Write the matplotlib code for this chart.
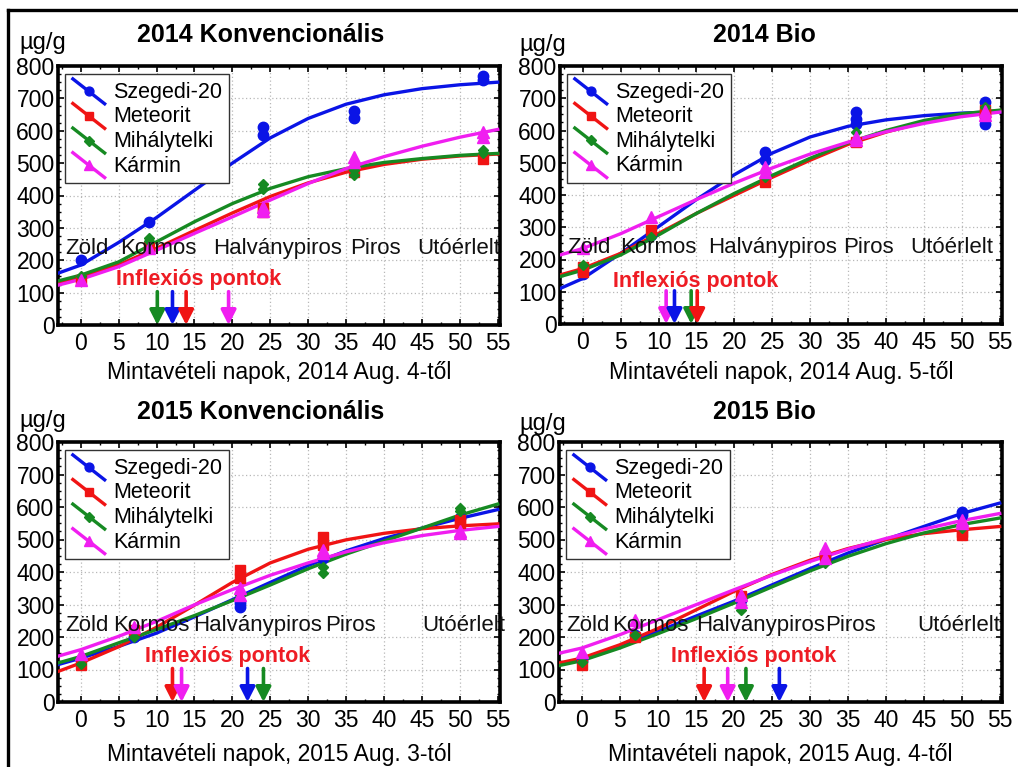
import matplotlib
matplotlib.use("Agg")
import matplotlib.pyplot as plt
from matplotlib.lines import Line2D
from matplotlib.legend_handler import HandlerBase
from matplotlib.ticker import MultipleLocator

plt.rcParams['font.family'] = ['Liberation Sans', 'DejaVu Sans']

# ---------------- data ----------------
SERIES = ["Szegedi-20", "Meteorit", "Mihálytelki", "Kármin"]
STAGES = ["Zöld", "Kormos", "Halványpiros", "Piros", "Utóérlelt"]
TITLES = ["2014 Konvencionális", "2014 Bio", "2015 Konvencionális", "2015 Bio"]
XLABELS = ["Mintavételi napok, 2014 Aug. 4-től", "Mintavételi napok, 2014 Aug. 5-től",
           "Mintavételi napok, 2015 Aug. 3-tól", "Mintavételi napok, 2015 Aug. 4-től"]
UNIT = "µg/g"
INFLEX_LABEL = "Inflexiós pontok"

DAYS_2014 = [0, 9, 24, 36, 53]
DAYS_2015 = [0, 7, 21, 32, 50]
CURVE_DAYS = [-3, 0, 5, 10, 15, 20, 25, 30, 35, 40, 45, 50, 55]

# measured replicates per sampling day
K14_POINTS = {
    "Szegedi-20":  [[202], [318], [612, 588], [662, 640], [770, 757]],
    "Meteorit":    [[140], [240], [360, 350], [472], [512]],
    "Mihálytelki": [[152], [268, 258], [435, 420], [480, 462], [540, 530]],
    "Kármin":      [[138], [238], [365, 352], [520, 505], [597, 582]],
}
B14_POINTS = {
    "Szegedi-20":  [[155], [275], [533, 508], [657, 637, 621], [688, 621]],
    "Meteorit":    [[162, 178], [291], [440], [564], [665, 650]],
    "Mihálytelki": [[183], [270], [456], [595], [673]],
    "Kármin":      [[235], [333], [487, 470], [580, 570], [660, 647]],
}
K15_POINTS = {
    "Szegedi-20":  [[128], [200], [305, 292], [443], [566]],
    "Meteorit":    [[114], [223], [406, 382], [508, 483], [561, 551]],
    "Mihálytelki": [[118], [201], [330], [415, 397], [597, 587]],
    "Kármin":      [[148], [232], [351, 329], [468, 458], [525, 520]],
}
B15_POINTS = {
    "Szegedi-20":  [[125], [205], [315], [450], [585, 575]],
    "Meteorit":    [[114], [200], [325], [448], [523, 514]],
    "Mihálytelki": [[124], [206], [298, 283], [427], [535]],
    "Kármin":      [[155], [252], [329, 309], [474, 443], [560, 550]],
}

# fitted curves at CURVE_DAYS
K14_CURVES = {
    "Szegedi-20":  [160, 185, 255, 332, 416, 500, 578, 638, 682, 711, 730, 742, 750],
    "Meteorit":    [131, 149, 186, 237, 292, 346, 397, 439, 472, 496, 512, 522, 528],
    "Mihálytelki": [136, 154, 195, 257, 319, 375, 422, 458, 483, 502, 514, 524, 530],
    "Kármin":      [123, 141, 180, 231, 283, 334, 386, 437, 483, 520, 552, 580, 604],
}
B14_CURVES = {
    "Szegedi-20":  [110, 141, 219, 302, 386, 463, 530, 580, 613, 633, 646, 654, 658],
    "Meteorit":    [152, 172, 219, 281, 343, 399, 455, 508, 557, 595, 626, 649, 662],
    "Mihálytelki": [147, 167, 214, 276, 343, 405, 461, 514, 562, 600, 631, 652, 663],
    "Kármin":      [214, 234, 280, 333, 386, 437, 484, 527, 564, 596, 622, 643, 657],
}
K15_CURVES = {
    "Szegedi-20":  [115, 135, 171, 212, 262, 315, 368, 420, 465, 503, 535, 565, 592],
    "Meteorit":    [94, 120, 170, 230, 298, 368, 428, 470, 499, 519, 533, 542, 548],
    "Mihálytelki": [120, 140, 182, 223, 266, 312, 360, 410, 455, 495, 535, 575, 609],
    "Kármin":      [141, 161, 202, 248, 299, 346, 390, 428, 462, 490, 512, 528, 540],
}
B15_CURVES = {
    "Szegedi-20":  [115, 130, 171, 217, 264, 310, 360, 410, 458, 500, 540, 580, 612],
    "Meteorit":    [120, 135, 176, 226, 283, 340, 392, 436, 472, 500, 518, 530, 540],
    "Mihálytelki": [112, 127, 166, 210, 256, 304, 354, 403, 448, 487, 520, 546, 566],
    "Kármin":      [150, 166, 207, 253, 299, 345, 390, 432, 470, 503, 532, 558, 580],
}

# inflection points (days)
K14_INFLEX = {"Mihálytelki": 10.1, "Szegedi-20": 12.1, "Meteorit": 13.9, "Kármin": 19.5}
B14_INFLEX = {"Kármin": 11.0, "Szegedi-20": 12.1, "Mihálytelki": 14.3, "Meteorit": 15.1}
K15_INFLEX = {"Meteorit": 12.1, "Kármin": 13.3, "Szegedi-20": 22.0, "Mihálytelki": 24.1}
B15_INFLEX = {"Meteorit": 16.1, "Kármin": 19.2, "Mihálytelki": 21.6, "Szegedi-20": 26.0}

# ---------------- layout / style ----------------
W, H = 1018, 767
COLORS = {"Szegedi-20": "#0a14e6", "Meteorit": "#f01414",
          "Mihálytelki": "#168a22", "Kármin": "#f01ef0"}
MARKERS = {"Szegedi-20": ("o", 7.5), "Meteorit": ("s", 7), "Mihálytelki": ("D", 5.5), "Kármin": ("^", 8)}
FS = 16

PANELS = [
    dict(points=K14_POINTS, curves=K14_CURVES, inflex=K14_INFLEX, days=DAYS_2014,
         rect=(58, 66, 500, 325), title_xy=(261, 35), unit_xy=(43, 43), xlabel_y=372,
         stage_x=[-2.1, 5.2, 17.5, 35.5, 44.4], inflex_x=4.7, inflex_y=139),
    dict(points=B14_POINTS, curves=B14_CURVES, inflex=B14_INFLEX, days=DAYS_2014,
         rect=(560, 66, 1002, 324), title_xy=(764, 35), unit_xy=(543, 45), xlabel_y=372,
         stage_x=[-2.1, 4.9, 16.5, 34.4, 43.2], inflex_x=4.0, inflex_y=132),
    dict(points=K15_POINTS, curves=K15_CURVES, inflex=K15_INFLEX, days=DAYS_2015,
         rect=(58, 442, 500, 702), title_xy=(261, 412), unit_xy=(43, 421), xlabel_y=754,
         stage_x=[-2.1, 4.3, 14.8, 32.2, 45.0], inflex_x=8.5, inflex_y=140),
    dict(points=B15_POINTS, curves=B15_CURVES, inflex=B15_INFLEX, days=DAYS_2015,
         rect=(559, 442, 1002, 702), title_xy=(764, 412), unit_xy=(543, 424), xlabel_y=754,
         stage_x=[-2.1, 4.0, 15.0, 32.0, 44.1], inflex_x=11.7, inflex_y=140),
]


class DiagHandler(HandlerBase):
    def create_artists(self, legend, orig_handle, xdescent, ydescent,
                       width, height, fontsize, trans):
        x0 = -xdescent
        x1 = x0 + width
        y0 = -ydescent + height * 1.15
        y1 = -ydescent - height * 0.25
        c = orig_handle.get_color()
        ln = Line2D([x0, x1], [y0, y1], color=c, lw=2.4, solid_capstyle='butt')
        mk = Line2D([(x0 + x1) / 2], [(y0 + y1) / 2], color=c, lw=0,
                    marker=orig_handle.get_marker(), markersize=orig_handle.get_markersize() * 0.85)
        ln.set_transform(trans)
        mk.set_transform(trans)
        return [ln, mk]


fig = plt.figure(figsize=(W / 100, H / 100), dpi=100)


def fxy(x, y):
    return x / W, 1 - y / H


for p, title, xlabel in zip(PANELS, TITLES, XLABELS):
    l, t, r, b = p["rect"]
    ax = fig.add_axes([l / W, 1 - b / H, (r - l) / W, (b - t) / H])
    ax.set_xlim(-3, 55.3)
    ax.set_ylim(0, 800)
    ax.xaxis.set_major_locator(MultipleLocator(5))
    ax.yaxis.set_major_locator(MultipleLocator(100))
    ax.xaxis.set_minor_locator(MultipleLocator(2.5))
    ax.yaxis.set_minor_locator(MultipleLocator(25))
    ax.tick_params(which='major', direction='in', length=4, width=1.2, labelsize=16.5,
                   top=True, right=True)
    ax.tick_params(axis='x', which='major', pad=5)
    ax.tick_params(axis='y', which='major', pad=2.5)
    ax.tick_params(which='minor', direction='in', length=2.5, width=1, top=True, right=True)
    for s in ax.spines.values():
        s.set_linewidth(2.6)
        s.set_color('black')
    ax.grid(True, which='major', color='#b8b8b8', linestyle=(0, (1, 2)), linewidth=0.9)
    ax.set_axisbelow(True)

    handles = []
    for name in SERIES:
        c = COLORS[name]
        m, ms = MARKERS[name]
        ax.plot(CURVE_DAYS, p["curves"][name], color=c, lw=2.4, zorder=3,
                solid_joinstyle='round')
        xs, ys = [], []
        for d, reps in zip(p["days"], p["points"][name]):
            for v in reps:
                xs.append(d)
                ys.append(v)
        ax.plot(xs, ys, ls='none', marker=m, ms=ms, color=c, zorder=4)
        handles.append(Line2D([], [], color=c, marker=m, markersize=ms, lw=2.4))

    for name, xi in p["inflex"].items():
        ax.annotate('', xy=(xi, 0), xytext=(xi, 103),
                    arrowprops=dict(arrowstyle='-|>,head_length=0.55,head_width=0.28',
                                    color=COLORS[name], lw=2.6, shrinkA=0, shrinkB=0,
                                    mutation_scale=16), zorder=5)

    for sx, st in zip(p["stage_x"], STAGES):
        ax.text(sx, 236, st, fontsize=FS, ha='left', va='center', color='#111111', zorder=6)
    ax.text(p["inflex_x"], p["inflex_y"], INFLEX_LABEL, fontsize=15.5, fontweight='bold',
            color='#ee1c24', ha='left', va='center', zorder=6)

    leg = ax.legend(handles, SERIES, loc='upper left', bbox_to_anchor=(0.016, 0.968),
                    handler_map={Line2D: DiagHandler()}, fontsize=15.5, frameon=True,
                    fancybox=False, edgecolor='#333333', framealpha=1,
                    handlelength=1.6, handleheight=1.0, handletextpad=0.35,
                    labelspacing=0.12, borderpad=0.3, borderaxespad=0)
    leg.get_frame().set_linewidth(1.0)
    leg.set_zorder(10)

    fig.text(*fxy(*p["title_xy"]), title, fontsize=18, fontweight='bold', ha='center', va='center')
    fig.text(*fxy(*p["unit_xy"]), UNIT, fontsize=17, ha='center', va='center')
    fig.text(*fxy((l + r) / 2, p["xlabel_y"]), xlabel, fontsize=16.5, ha='center', va='center')

# outer frame (top and left edges)
fig.add_artist(Line2D([8 / W, 1.0], [1 - 10 / H, 1 - 10 / H], color='black', lw=2.4,
                      transform=fig.transFigure))
fig.add_artist(Line2D([8 / W, 8 / W], [0, 1 - 10 / H], color='black', lw=2.4,
                      transform=fig.transFigure))

fig.savefig("out.png", dpi=100)
